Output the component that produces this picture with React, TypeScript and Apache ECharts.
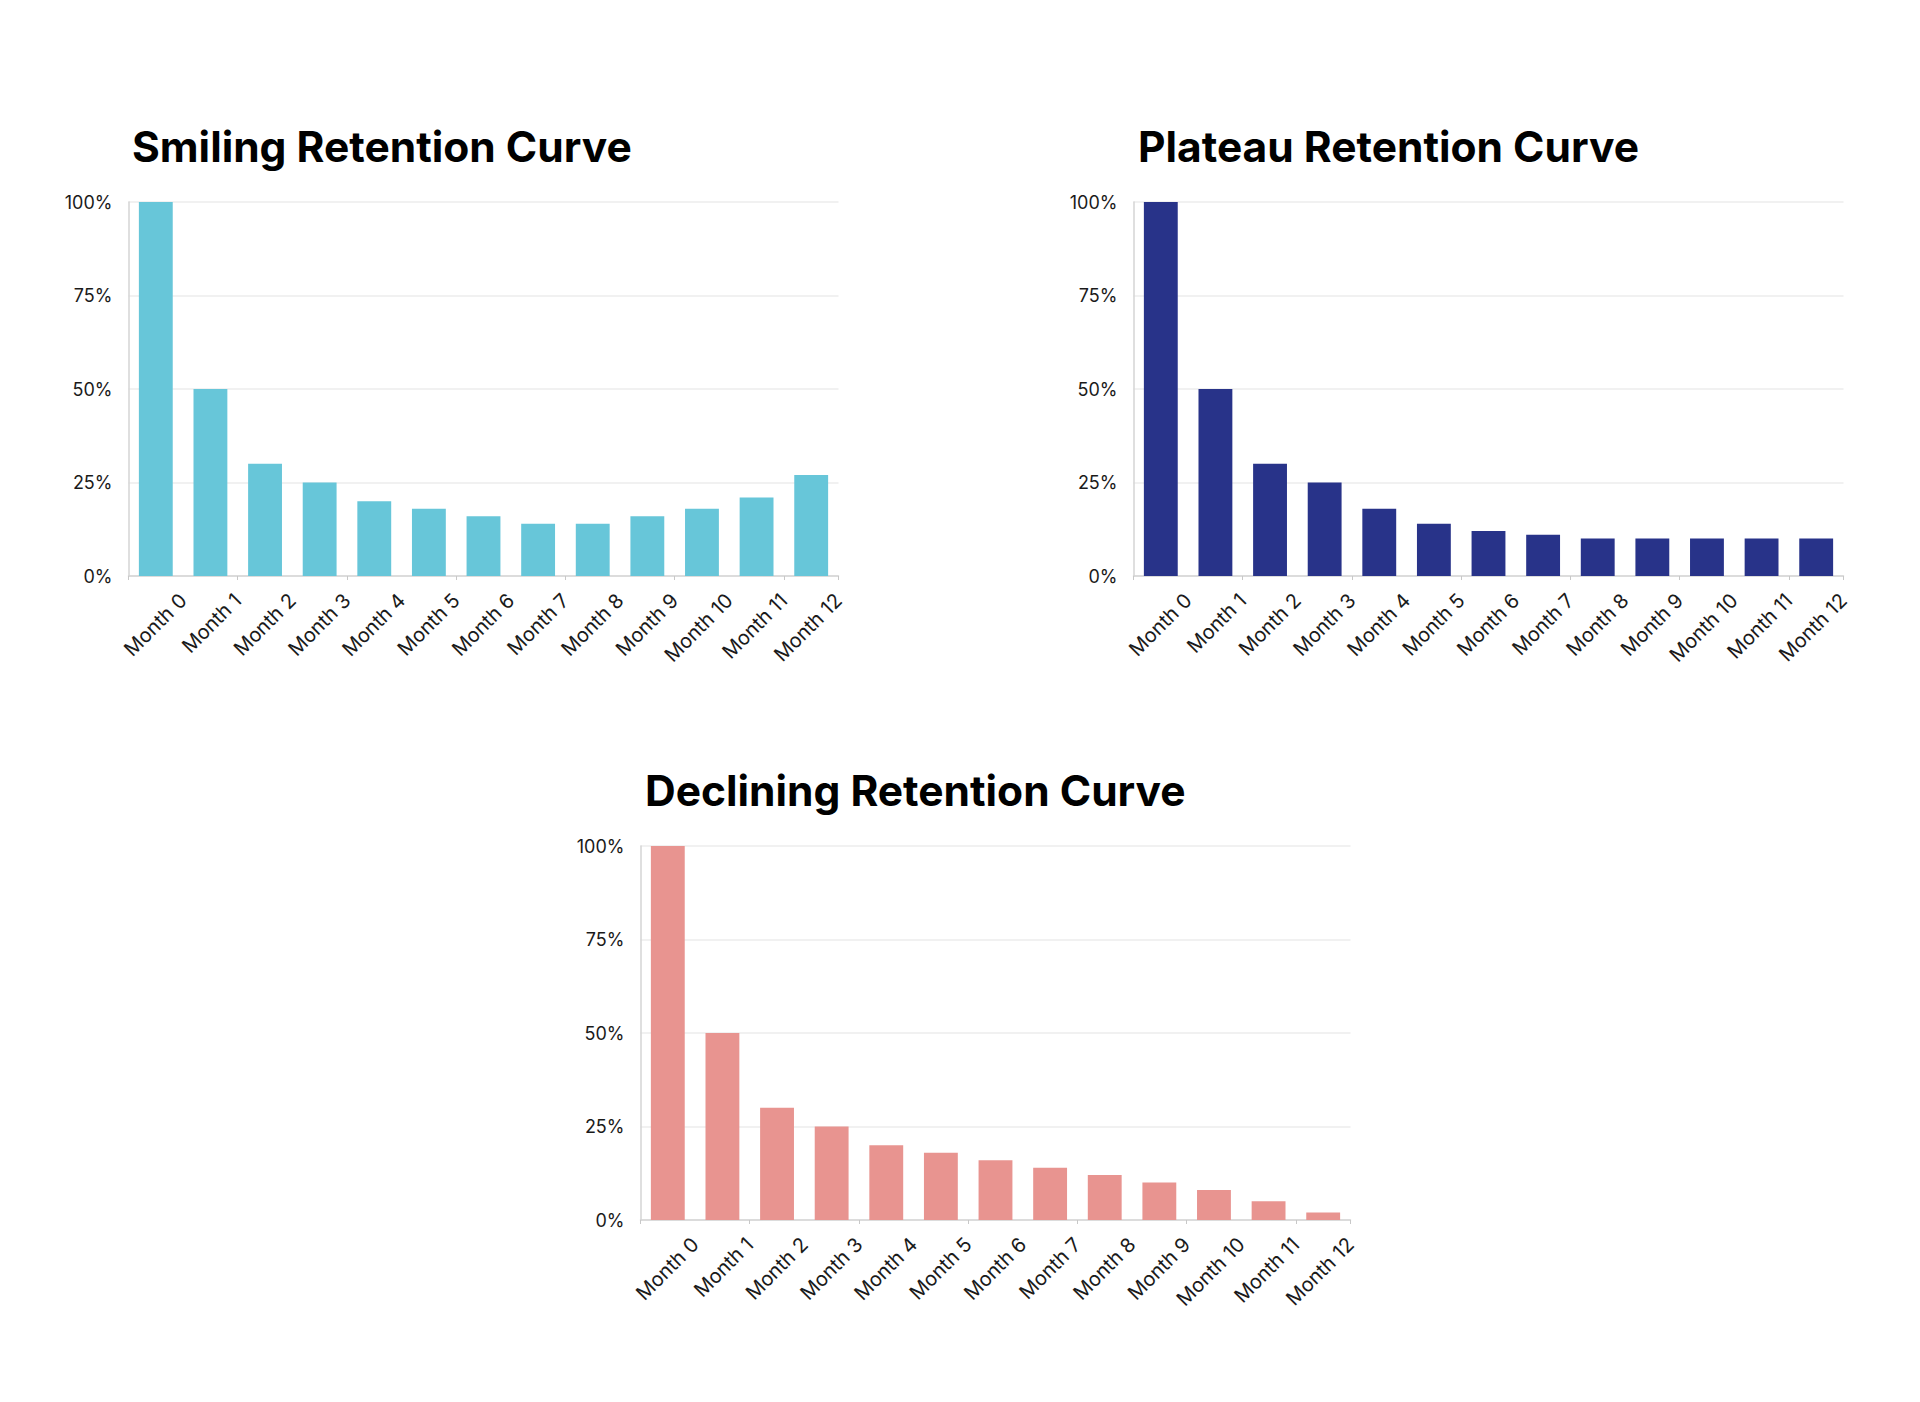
import React, { useEffect, useRef } from "react";
import * as echarts from "echarts";

const categories = [
  "Month 0", "Month 1", "Month 2", "Month 3", "Month 4", "Month 5", "Month 6",
  "Month 7", "Month 8", "Month 9", "Month 10", "Month 11", "Month 12",
];
const smilingValues = [100, 50, 30, 25, 20, 18, 16, 14, 14, 16, 18, 21, 27];
const plateauValues = [100, 50, 30, 25, 18, 14, 12, 11, 10, 10, 10, 10, 10];
const decliningValues = [100, 50, 30, 25, 20, 18, 16, 14, 12, 10, 8, 5, 2];
const yTicks = [0, 25, 50, 75, 100];

const panels = [
  { title: "Smiling Retention Curve", values: smilingValues, color: "#67C6D9", left: 128.5, top: 202, titleX: 132, titleY: 146 },
  { title: "Plateau Retention Curve", values: plateauValues, color: "#283389", left: 1133.5, top: 202, titleX: 1138, titleY: 146 },
  { title: "Declining Retention Curve", values: decliningValues, color: "#E89490", left: 640.5, top: 846, titleX: 645, titleY: 790 },
];

const FONT = "Inter, 'Noto Sans', sans-serif";

export default function App() {
  const ref = useRef<HTMLDivElement>(null);
  useEffect(() => {
    document.body.style.margin = "0";
    const chart = echarts.init(ref.current!, null, { renderer: "svg" });
    const grids: any[] = [];
    const xAxes: any[] = [];
    const yAxes: any[] = [];
    const series: any[] = [];
    const graphics: any[] = [];
    panels.forEach((p, i) => {
      grids.push({ left: p.left, top: p.top, width: 710, height: 374, containLabel: false });
      xAxes.push({
        type: "category",
        gridIndex: i,
        data: categories,
        axisLine: { show: true, lineStyle: { color: "#d4d4d4", width: 1.5 } },
        axisTick: { show: true, length: 4, lineStyle: { color: "#c8c8c8", width: 1 } },
        axisLabel: { show: false },
        splitLine: { show: false },
      });
      xAxes.push({
        type: "value",
        gridIndex: i,
        position: "bottom",
        min: 0,
        max: categories.length,
        interval: 1,
        axisLine: { show: false },
        axisTick: { show: false },
        splitLine: { show: false },
        axisLabel: {
          show: true,
          rotate: 45,
          margin: 21,
          showMinLabel: true,
          showMaxLabel: true,
          fontSize: 20,
          fontFamily: FONT,
          color: "#1a1a1a",
          formatter: (v: number) => (v >= 1 ? categories[Math.round(v) - 1] : ""),
        },
      });
      yAxes.push({
        type: "value",
        gridIndex: i,
        min: yTicks[0],
        max: yTicks[yTicks.length - 1],
        interval: 25,
        axisLine: { show: true, lineStyle: { color: "#d4d4d4", width: 1.5 } },
        axisTick: { show: false },
        splitLine: { show: true, lineStyle: { color: "#ececec", width: 1.5 } },
        axisLabel: {
          margin: 16,
          fontSize: 18,
          fontFamily: FONT,
          color: "#1a1a1a",
          formatter: "{value}%",
        },
      });
      series.push({
        type: "bar",
        xAxisIndex: i * 2,
        yAxisIndex: i,
        data: p.values,
        barCategoryGap: "38%",
        itemStyle: { color: p.color },
      });
      graphics.push({
        type: "text",
        x: p.titleX,
        y: p.titleY,
        style: {
          text: p.title,
          font: `bold 42.5px ${FONT}`,
          fill: "#000",
          verticalAlign: "middle",
          align: "left",
        },
      });
    });
    chart.setOption({
      animation: false,
      backgroundColor: "#ffffff",
      grid: grids,
      xAxis: xAxes,
      yAxis: yAxes,
      series,
      graphic: graphics,
    });
    return () => chart.dispose();
  }, []);
  return (
    <div
      ref={ref}
      style={{ position: "absolute", left: 0, top: 0, width: 1920, height: 1402, background: "#fff" }}
    />
  );
}
